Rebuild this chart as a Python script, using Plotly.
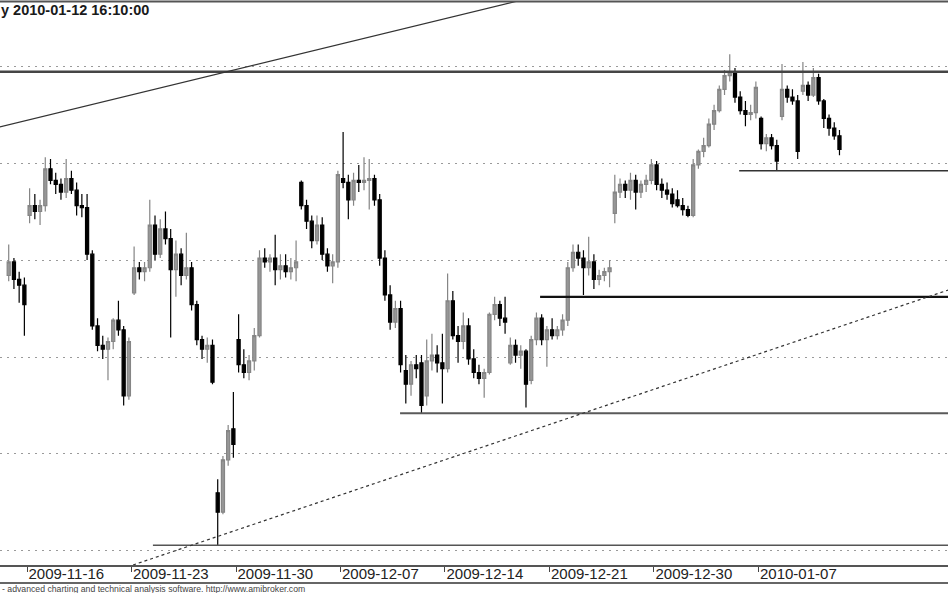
import plotly.graph_objects as go

# hourly-ish bars, 4 per session, Nov 13 2009 -> Jan 12 2010
day_labels = ["2009-11-16", "2009-11-23", "2009-11-30", "2009-12-07",
              "2009-12-14", "2009-12-21", "2009-12-30", "2010-01-07"]
label_bars = [3.5, 23.5, 43.5, 63.5, 83.5, 103.5, 123.5, 143.5]

opens = [
    2342, 2349, 2340, 2337,   # 11-13
    2373, 2378, 2375, 2378,   # 11-16
    2397, 2391, 2389, 2385,
    2392, 2386, 2378, 2377,
    2353, 2316, 2306, 2304,
    2308, 2319, 2314, 2280,
    2333, 2346, 2344, 2346,   # 11-23
    2368, 2353, 2366, 2361,
    2345, 2353, 2342, 2346,
    2327, 2309, 2304, 2306,
    2230, 2220, 2247, 2263,
    2309, 2296, 2292, 2298,   # 11-30
    2311, 2351, 2349, 2351,
    2345, 2347, 2344, 2346,
    2390, 2378, 2370, 2360,
    2368, 2353, 2347, 2349,
    2392, 2390, 2381, 2391,   # 12-07
    2390, 2391, 2392, 2381,
    2351, 2332, 2318, 2325,
    2293, 2286, 2296, 2297,
    2280, 2298, 2301, 2297,
    2294, 2329, 2311, 2308,   # 12-14
    2316, 2299, 2292, 2289,
    2292, 2322, 2327, 2320,
    2297, 2306, 2301, 2303,
    2288, 2309, 2320, 2309,
    2314, 2311, 2314, 2319,   # 12-21
    2346, 2354, 2351, 2346,
    2349, 2340, 2342, 2344,
    2374, 2385, 2389, 2386,
    2391, 2385, 2389, 2391,
    2399, 2389, 2386, 2384,   # 12-30
    2381, 2378, 2376, 2373,
    2399, 2406, 2409, 2420,
    2427, 2438, 2445, 2447,
    2434, 2427, 2425, 2426,
    2423, 2410, 2413, 2409,   # 01-07
    2424, 2438, 2434, 2432,
    2437, 2440, 2435, 2444,
    2432, 2423, 2418, 2414,
]
highs = [
    2358, 2351, 2344, 2341,
    2387, 2384, 2381, 2403,
    2402, 2395, 2392, 2402,
    2396, 2390, 2384, 2384,
    2355, 2320, 2311, 2310,
    2320, 2329, 2316, 2310,
    2357, 2349, 2349, 2381,
    2373, 2371, 2375, 2366,
    2360, 2356, 2364, 2349,
    2329, 2311, 2310, 2309,
    2237, 2249, 2265, 2282,
    2322, 2304, 2301, 2315,
    2355, 2356, 2353, 2363,
    2353, 2353, 2351, 2360,
    2391, 2381, 2373, 2373,
    2372, 2356, 2353, 2396,
    2416, 2394, 2395, 2399,
    2403, 2402, 2394, 2384,
    2355, 2337, 2329, 2329,
    2301, 2298, 2301, 2301,
    2309, 2312, 2306, 2312,
    2343, 2334, 2316, 2323,
    2320, 2304, 2296, 2294,
    2323, 2331, 2329, 2331,
    2310, 2309, 2306, 2304,
    2311, 2323, 2322, 2316,
    2320, 2316, 2322, 2349,
    2358, 2358, 2355, 2362,
    2353, 2345, 2346, 2350,
    2394, 2392, 2391, 2395,
    2394, 2391, 2394, 2402,
    2401, 2392, 2390, 2387,
    2386, 2382, 2378, 2402,
    2407, 2413, 2423, 2430,
    2440, 2448, 2456, 2449,
    2437, 2432, 2430, 2442,
    2424, 2415, 2415, 2412,
    2451, 2440, 2438, 2435,
    2452, 2442, 2449, 2446,
    2433, 2425, 2421, 2417,
]
lows = [
    2339, 2335, 2328, 2311,
    2369, 2371, 2368, 2375,
    2389, 2384, 2381, 2382,
    2384, 2373, 2372, 2350,
    2314, 2303, 2299, 2288,
    2304, 2311, 2275, 2278,
    2332, 2340, 2339, 2344,
    2350, 2351, 2358, 2310,
    2331, 2337, 2340, 2324,
    2306, 2299, 2297, 2286,
    2203, 2219, 2244, 2248,
    2292, 2289, 2288, 2293,
    2310, 2346, 2344, 2337,
    2340, 2341, 2340, 2339,
    2376, 2366, 2356, 2358,
    2350, 2344, 2338, 2346,
    2387, 2371, 2378, 2385,
    2386, 2376, 2378, 2347,
    2329, 2314, 2315, 2292,
    2276, 2280, 2289, 2271,
    2275, 2293, 2292, 2276,
    2292, 2309, 2297, 2304,
    2296, 2289, 2286, 2279,
    2291, 2319, 2316, 2312,
    2296, 2297, 2294, 2274,
    2286, 2306, 2306, 2295,
    2309, 2309, 2311, 2316,
    2344, 2347, 2332, 2342,
    2335, 2337, 2339, 2336,
    2369, 2382, 2382, 2381,
    2376, 2382, 2385, 2389,
    2386, 2382, 2381, 2377,
    2377, 2373, 2372, 2372,
    2397, 2403, 2408, 2417,
    2426, 2435, 2442, 2431,
    2425, 2419, 2422, 2423,
    2407, 2406, 2407, 2396,
    2422, 2431, 2430, 2402,
    2435, 2432, 2434, 2430,
    2418, 2414, 2412, 2404,
]
closes = [
    2349, 2340, 2337, 2327,
    2378, 2375, 2378, 2397,
    2391, 2389, 2385, 2392,
    2386, 2378, 2377, 2353,
    2316, 2306, 2304, 2308,
    2319, 2314, 2280, 2308,
    2346, 2344, 2346, 2368,
    2353, 2366, 2361, 2345,
    2353, 2342, 2346, 2327,
    2309, 2304, 2306, 2287,
    2220, 2247, 2262, 2255,
    2296, 2292, 2298, 2311,
    2351, 2349, 2351, 2345,
    2347, 2344, 2346, 2349,
    2378, 2370, 2360, 2368,
    2353, 2347, 2349, 2394,
    2390, 2381, 2391, 2390,
    2391, 2392, 2381, 2351,
    2332, 2318, 2325, 2296,
    2286, 2296, 2294, 2275,
    2298, 2301, 2297, 2294,
    2329, 2311, 2308, 2316,
    2299, 2292, 2289, 2292,
    2322, 2327, 2320, 2318,
    2306, 2301, 2303, 2286,
    2309, 2320, 2309, 2314,
    2311, 2314, 2319, 2346,
    2354, 2351, 2346, 2349,
    2340, 2342, 2344, 2346,
    2385, 2389, 2386, 2391,
    2385, 2389, 2391, 2399,
    2389, 2386, 2384, 2379,
    2378, 2376, 2373, 2399,
    2406, 2409, 2420, 2427,
    2438, 2445, 2447, 2434,
    2427, 2425, 2426, 2439,
    2410, 2413, 2409, 2401,
    2438, 2434, 2432, 2406,
    2440, 2435, 2444, 2432,
    2423, 2418, 2414, 2407,
]

# drawn studies: horizontal levels (price, first bar) and two trend lines
level_prices = [2447, 2396, 2331, 2271, 2203]
level_start_bars = [-2, 139.8, 101.7, 74.9, 27.6]
trend_bars = [-2, 120]
trend_prices = [2418.4, 2498.3]
channel_bars = [23.8, 182]
channel_prices = [2192.8, 2336.5]

bars = list(range(len(closes)))

fig = go.Figure()
fig.add_trace(go.Candlestick(
    x=bars, open=opens, high=highs, low=lows, close=closes,
    increasing=dict(line=dict(color="#858585", width=1.2), fillcolor="#979797"),
    decreasing=dict(line=dict(color="#000000", width=1.2), fillcolor="#000000"),
    whiskerwidth=0,
    showlegend=False,
))

level_styles = [("#454545", 2.5), ("#333333", 1.5), ("#111111", 2.2),
                ("#5a5a5a", 2), ("#555555", 1.5)]
for p, b0, (col, w) in zip(level_prices, level_start_bars, level_styles):
    fig.add_shape(type="line", xref="x", yref="y", x0=b0, x1=185, y0=p, y1=p,
                  line=dict(color=col, width=w))

fig.add_shape(type="line", xref="x", yref="y",
              x0=trend_bars[0], x1=trend_bars[1], y0=trend_prices[0], y1=trend_prices[1],
              line=dict(color="#333333", width=1.2))
fig.add_shape(type="line", xref="x", yref="y",
              x0=channel_bars[0], x1=channel_bars[1], y0=channel_prices[0], y1=channel_prices[1],
              line=dict(color="#333333", width=1.2, dash="3px,3px"))

# frame lines of the chart window
fig.add_shape(type="line", xref="paper", yref="paper", x0=0, x1=1, y0=1.0009, y1=1.0009,
              line=dict(color="#555555", width=2))
fig.add_shape(type="line", xref="paper", yref="paper", x0=0, x1=1, y0=-0.032, y1=-0.032,
              line=dict(color="#666666", width=2))

fig.add_annotation(text="<b>y 2010-01-12 16:10:00</b>", xref="paper", yref="paper",
                   x=0, y=0.9858, xanchor="left", yanchor="middle", showarrow=False,
                   xshift=-1, font=dict(family="Liberation Sans", size=14.5, color="#1a1a1a"))
fig.add_annotation(text="- advanced charting and technical analysis software. http://www.amibroker.com",
                   xref="paper", yref="paper", x=0, y=-0.0426, xanchor="left", yanchor="middle",
                   showarrow=False, font=dict(family="Liberation Sans", size=8.7, color="#444444"))

fig.update_layout(
    template="none",
    width=948, height=593,
    margin=dict(l=0, r=0, t=2, b=28),
    paper_bgcolor="white", plot_bgcolor="white",
    font=dict(family="Liberation Sans", color="#222222"),
    boxgap=0.15,
    xaxis=dict(
        range=[-1.667, 179.77], rangeslider=dict(visible=False),
        tickvals=label_bars, ticktext=day_labels,
        ticks="outside", ticklen=5, tickwidth=1, tickcolor="#444444",
        ticklabelposition="outside right", ticklabelstandoff=-6,
        tickfont=dict(size=15, color="#222222"),
        showgrid=False, zeroline=False, automargin=False,
        showline=True, linecolor="#555555", linewidth=2,
    ),
    yaxis=dict(
        range=[2192.78, 2482.99], tick0=2200, dtick=50,
        showticklabels=False, ticks="", zeroline=False, automargin=False,
        showgrid=True, gridcolor="#9a9a9a", gridwidth=1, griddash="2px,5px",
    ),
)

fig.write_html("out.html", config={"displayModeBar": False},
               post_script="document.body.style.margin='0';")
